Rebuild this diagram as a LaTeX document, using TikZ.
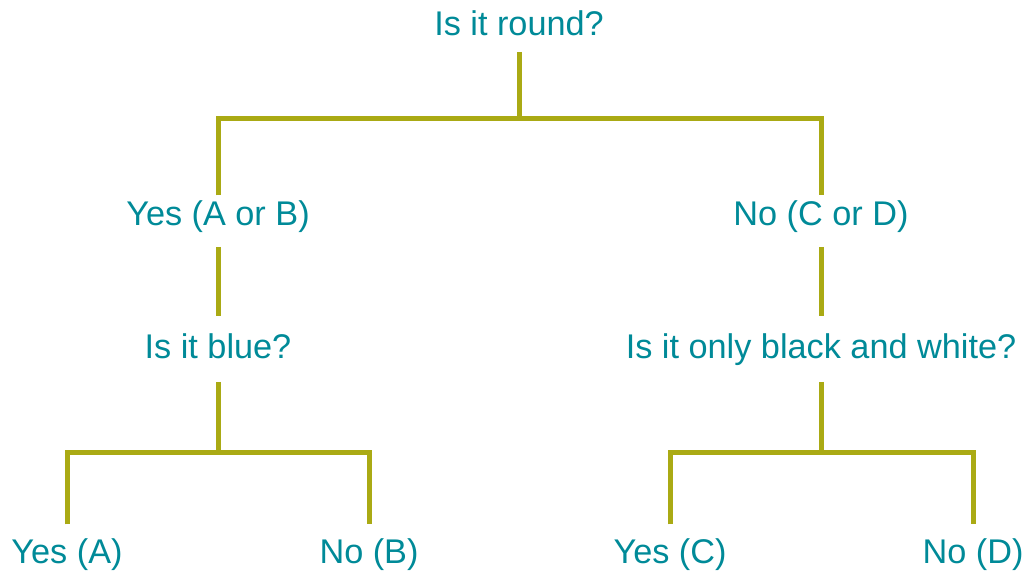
\documentclass[tikz,border=0pt]{standalone}
\usepackage{fontspec}
\setmainfont{Liberation Sans}
\definecolor{tealc}{RGB}{0,138,152}
\definecolor{olivec}{RGB}{170,170,20}
\begin{document}
\begin{tikzpicture}[x=0.02cm,y=-0.02cm,
  lbl/.style={text=tealc, font=\fontsize{19.5}{23}\selectfont, inner sep=0, outer sep=0, text height=14pt, text depth=4.5pt, anchor=base},
  conn/.style={draw=olivec, line width=0.1cm}]
\useasboundingbox (0,0) rectangle (1023,571);
\node[lbl] (root) at (519,36) {Is it round?};
\node[lbl] (yab) at (218,225) {Yes (A or B)};
\node[lbl] (ncd) at (821,225) {No (C or D)};
\node[lbl] (blue) at (218,358) {Is it blue?};
\node[lbl] (bw) at (821,358) {Is it only black and white?};
\node[lbl] (ya) at (67,563) {Yes (A)};
\node[lbl] (nb) at (369,563) {No (B)};
\node[lbl] (yc) at (670,563) {Yes (C)};
\node[lbl] (nd) at (973,563) {No (D)};
\coordinate (j1) at (519,118);
\coordinate (j2) at (218,452);
\coordinate (j3) at (821,452);
\draw[conn] ([yshift=-0.16cm]root.south) -- (j1);
\draw[conn] ([yshift=0.10cm]yab.north) |- (j1) -| ([yshift=0.10cm]ncd.north);
\draw[conn] ([yshift=-0.28cm]yab.south) -- ([yshift=0.34cm]blue.north);
\draw[conn] ([yshift=-0.28cm]ncd.south) -- ([yshift=0.34cm]bw.north);
\draw[conn] ([yshift=-0.32cm]blue.south) -- (j2);
\draw[conn] ([yshift=-0.32cm]bw.south) -- (j3);
\draw[conn] ([yshift=0.28cm]ya.north) |- (j2) -| ([yshift=0.28cm]nb.north);
\draw[conn] ([yshift=0.28cm]yc.north) |- (j3) -| ([yshift=0.28cm]nd.north);
\end{tikzpicture}
\end{document}
